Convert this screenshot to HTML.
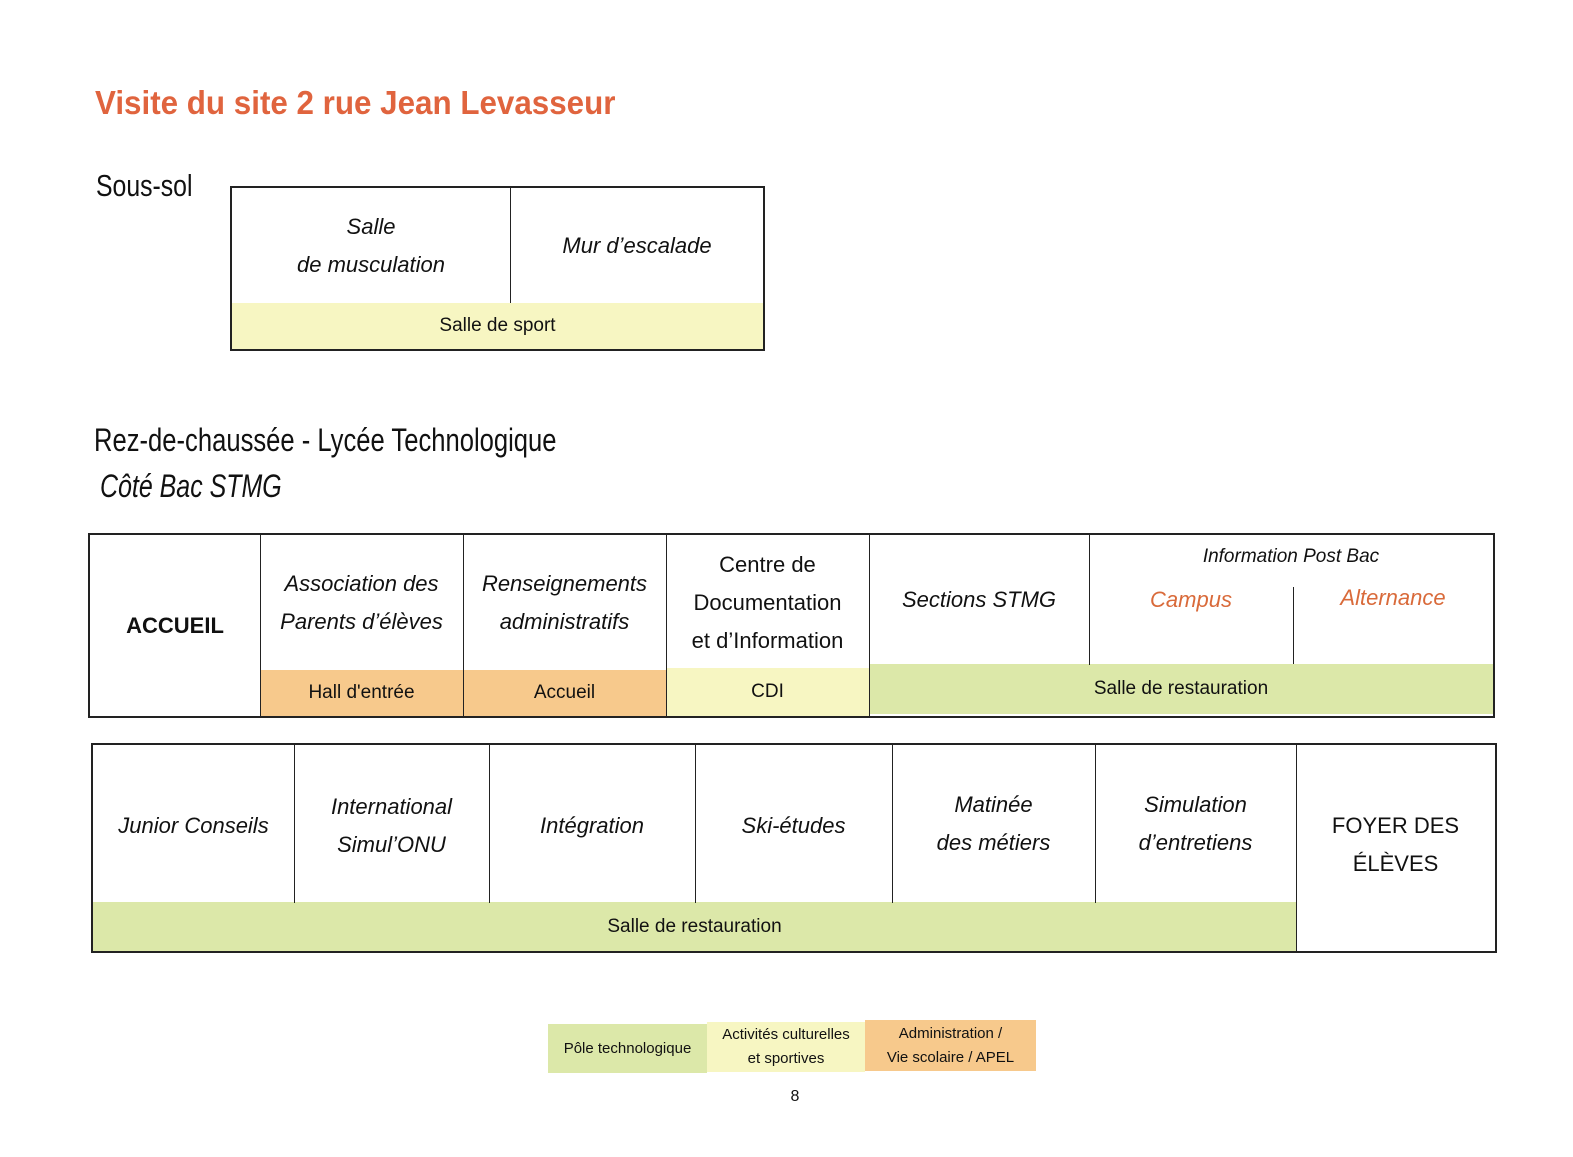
<!DOCTYPE html>
<html><head><meta charset="utf-8"><style>
body{margin:0;width:1573px;height:1157px;background:#fff;position:relative;font-family:"Liberation Sans",sans-serif;overflow:hidden}
.a{position:absolute;box-sizing:border-box}
.c{position:absolute;box-sizing:border-box;display:flex;align-items:center;justify-content:center;text-align:center;color:#111}
.i{font-style:italic;font-size:22px;line-height:38px}
.b{border:2px solid #222}
.v{position:absolute;width:0;border-left:1.5px solid #222}
.y{background:#f7f6c2}.o{background:#f7c98c}.g{background:#dce8a9}
.t{font-size:19px}
</style></head><body>
<div class="a" style="left:95px;top:84px;font-size:33px;font-weight:bold;color:#e0643e;transform:scaleX(0.95);transform-origin:left">Visite du site 2 rue Jean Levasseur</div>
<div class="a" style="left:96px;top:168px;font-size:31px;transform:scaleX(0.8);transform-origin:left;color:#111">Sous-sol</div>

<div class="a b" style="left:230px;top:186px;width:535px;height:165px"></div>
<div class="c y t" style="left:232px;top:303px;width:531px;height:46px">Salle de sport</div>
<div class="v" style="left:510px;top:187px;height:116px"></div>
<div class="c i" style="left:232px;top:188px;width:278px;height:115px">Salle<br>de musculation</div>
<div class="c i" style="left:511px;top:188px;width:252px;height:115px">Mur d’escalade</div>

<div class="a" style="left:94px;top:422px;font-size:32px;transform:scaleX(0.8);transform-origin:left;color:#111">Rez-de-chaussée - Lycée Technologique</div>
<div class="a" style="left:100px;top:468px;font-size:32px;font-style:italic;transform:scaleX(0.78);transform-origin:left;color:#111">Côté Bac STMG</div>

<div class="a b" style="left:88px;top:533px;width:1407px;height:185px"></div>
<div class="c o t" style="left:260px;top:670px;width:406px;height:46px"></div>
<div class="c t" style="left:260px;top:670px;width:203px;height:46px">Hall d'entrée</div>
<div class="c t" style="left:463px;top:670px;width:203px;height:46px">Accueil</div>
<div class="c y t" style="left:666px;top:668px;width:203px;height:48px">CDI</div>
<div class="c g t" style="left:869px;top:664px;width:624px;height:50px">Salle de restauration</div>
<div class="v" style="left:260px;top:535px;height:181px"></div>
<div class="v" style="left:463px;top:535px;height:181px"></div>
<div class="v" style="left:666px;top:535px;height:181px"></div>
<div class="v" style="left:869px;top:535px;height:181px"></div>
<div class="v" style="left:1089px;top:535px;height:130px"></div>
<div class="v" style="left:1293px;top:587px;height:77px"></div>
<div class="c" style="left:90px;top:535px;width:170px;height:181px;font-size:22px;font-weight:bold">ACCUEIL</div>
<div class="c i" style="left:260px;top:535px;width:203px;height:135px">Association des<br>Parents d’élèves</div>
<div class="c i" style="left:463px;top:535px;width:203px;height:135px">Renseignements<br>administratifs</div>
<div class="c" style="left:666px;top:535px;width:203px;height:135px;font-size:22px;line-height:38px">Centre de<br>Documentation<br>et d’Information</div>
<div class="c i" style="left:869px;top:535px;width:220px;height:130px">Sections STMG</div>
<div class="c" style="left:1089px;top:543px;width:404px;height:28px;font-style:italic;font-size:19px">Information Post Bac</div>
<div class="c i" style="left:1089px;top:582px;width:204px;height:36px;color:#d96a3a">Campus</div>
<div class="c i" style="left:1293px;top:580px;width:200px;height:36px;color:#d96a3a">Alternance</div>

<div class="a b" style="left:91px;top:743px;width:1406px;height:210px"></div>
<div class="c g t" style="left:93px;top:902px;width:1203px;height:49px">Salle de restauration</div>
<div class="v" style="left:294px;top:745px;height:158px"></div>
<div class="v" style="left:489px;top:745px;height:158px"></div>
<div class="v" style="left:695px;top:745px;height:158px"></div>
<div class="v" style="left:892px;top:745px;height:158px"></div>
<div class="v" style="left:1095px;top:745px;height:158px"></div>
<div class="v" style="left:1296px;top:745px;height:206px"></div>
<div class="c i" style="left:93px;top:750px;width:201px;height:152px">Junior Conseils</div>
<div class="c i" style="left:294px;top:750px;width:195px;height:152px">International<br>Simul’ONU</div>
<div class="c i" style="left:489px;top:750px;width:206px;height:152px">Intégration</div>
<div class="c i" style="left:695px;top:750px;width:197px;height:152px">Ski-études</div>
<div class="c i" style="left:892px;top:750px;width:203px;height:148px">Matinée<br>des métiers</div>
<div class="c i" style="left:1095px;top:750px;width:201px;height:148px">Simulation<br>d’entretiens</div>
<div class="c" style="left:1296px;top:745px;width:199px;height:200px;font-size:22px;line-height:38px">FOYER DES<br>ÉLÈVES</div>

<div class="c g" style="left:548px;top:1024px;width:159px;height:49px;font-size:15px">Pôle technologique</div>
<div class="c y" style="left:707px;top:1022px;width:158px;height:50px;font-size:15px;line-height:24px">Activités culturelles<br>et sportives</div>
<div class="c o" style="left:865px;top:1020px;width:171px;height:51px;font-size:15px;line-height:24px">Administration /<br>Vie scolaire / APEL</div>
<div class="c" style="left:780px;top:1086px;width:30px;height:22px;font-size:16px">8</div>
</body></html>
